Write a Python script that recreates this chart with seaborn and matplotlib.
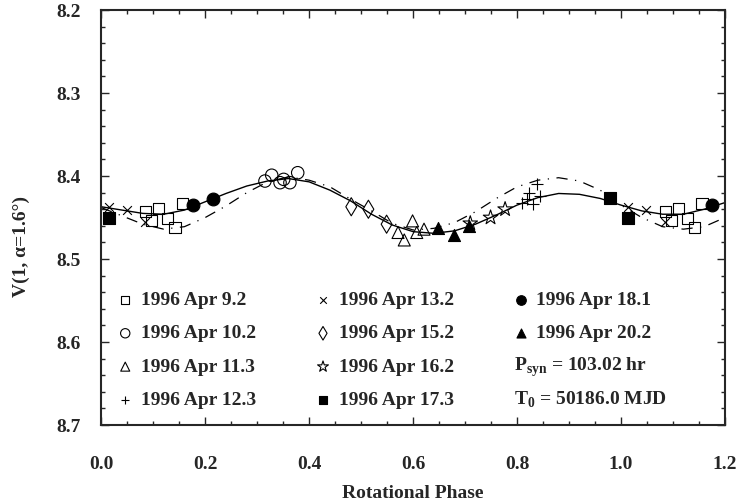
import numpy as np
import pandas as pd
import seaborn as sns
import matplotlib.pyplot as plt
from matplotlib.lines import Line2D

sns.set_style("ticks")
plt.rcParams['font.family'] = ['Liberation Serif', 'DejaVu Serif']
plt.rcParams['font.weight'] = 'bold'
plt.rcParams['mathtext.fontset'] = 'custom'
plt.rcParams['mathtext.rm'] = 'Liberation Serif:bold'
plt.rcParams['mathtext.bf'] = 'Liberation Serif:bold'

# observations folded on P = 103.02 hr (phase 0-1)
nights = ['1996 Apr 9.2', '1996 Apr 10.2', '1996 Apr 11.3', '1996 Apr 12.3',
          '1996 Apr 13.2', '1996 Apr 15.2', '1996 Apr 16.2', '1996 Apr 17.3',
          '1996 Apr 18.1', '1996 Apr 20.2']

apr09_phase = [0.085, 0.097, 0.110, 0.128, 0.142, 0.156]
apr09_mag = [8.443, 8.454, 8.439, 8.451, 8.462, 8.433]
apr10_phase = [0.315, 0.328, 0.344, 0.351, 0.363, 0.378]
apr10_mag = [8.406, 8.399, 8.408, 8.404, 8.408, 8.396]
apr11_phase = [0.571, 0.583, 0.599, 0.607, 0.621]
apr11_mag = [8.468, 8.477, 8.454, 8.468, 8.464]
apr12_phase = [0.810, 0.819, 0.823, 0.831, 0.844, 0.839]
apr12_mag = [8.433, 8.428, 8.421, 8.434, 8.424, 8.410]
apr13_phase = [0.014, 0.049, 0.085]
apr13_mag = [8.437, 8.441, 8.455]
apr15_phase = [0.481, 0.514, 0.549]
apr15_mag = [8.437, 8.440, 8.458]
apr16_phase = [0.710, 0.749, 0.777]
apr16_mag = [8.457, 8.450, 8.440]
apr17_phase = [0.014, 0.979]
apr17_mag = [8.450, 8.427]
apr18_phase = [0.176, 0.215]
apr18_mag = [8.435, 8.428]
apr20_phase = [0.647, 0.679, 0.708]
apr20_mag = [8.462, 8.471, 8.460]

# fitted lightcurves
fit_phase = [0.00, 0.04, 0.08, 0.12, 0.16, 0.20, 0.24, 0.28, 0.32, 0.36, 0.40,
             0.44, 0.48, 0.52, 0.56, 0.60, 0.64, 0.68, 0.72, 0.76, 0.80, 0.84,
             0.88, 0.92, 0.96, 1.00, 1.04, 1.08, 1.12, 1.16, 1.20]
fit_solid = [8.437, 8.441, 8.445, 8.446, 8.441, 8.431, 8.421, 8.412, 8.406, 8.403,
             8.407, 8.417, 8.430, 8.446, 8.459, 8.467, 8.469, 8.466, 8.458, 8.447,
             8.435, 8.426, 8.421, 8.422, 8.427, 8.435, 8.442, 8.446, 8.446, 8.440,
             8.432]
fit_dashed = [8.438, 8.448, 8.458, 8.464, 8.461, 8.450, 8.436, 8.420, 8.407, 8.401,
              8.405, 8.413, 8.428, 8.442, 8.457, 8.465, 8.463, 8.456, 8.443, 8.427,
              8.413, 8.405, 8.402, 8.406, 8.417, 8.435, 8.450, 8.461, 8.464, 8.461,
              8.450]

period_text = r'P$_{\mathrm{syn}}$ = 103.02 hr'
epoch_text = r'T$_{\mathrm{0}}$ = 50186.0 MJD'

phases = [apr09_phase, apr10_phase, apr11_phase, apr12_phase, apr13_phase,
          apr15_phase, apr16_phase, apr17_phase, apr18_phase, apr20_phase]
mags = [apr09_mag, apr10_mag, apr11_mag, apr12_mag, apr13_mag,
        apr15_mag, apr16_mag, apr17_mag, apr18_mag, apr20_mag]

rows = []
for night, ph, mg in zip(nights, phases, mags):
    for p, m in zip(ph, mg):
        rows.append((night, p, m))
        if p + 1 <= 1.2:  # repeat the start of the cycle
            rows.append((night, p + 1, m))
df = pd.DataFrame(rows, columns=['night', 'phase', 'mag'])

styles = {
    '1996 Apr 9.2': ('s', 'none', 65),
    '1996 Apr 10.2': ('o', 'none', 80),
    '1996 Apr 11.3': ('^', 'none', 75),
    '1996 Apr 12.3': ('+', 'black', 70),
    '1996 Apr 13.2': ('x', 'black', 40),
    '1996 Apr 15.2': ('d', 'none', 85),
    '1996 Apr 16.2': ('*', 'none', 120),
    '1996 Apr 17.3': ('s', 'black', 65),
    '1996 Apr 18.1': ('o', 'black', 85),
    '1996 Apr 20.2': ('^', 'black', 75),
}

fig, ax = plt.subplots(figsize=(7.39, 5.03), dpi=100)
fig.subplots_adjust(left=0.137, right=0.981, bottom=0.155, top=0.980)

sns.lineplot(x=fit_phase, y=fit_solid, ax=ax, color='black', lw=1.0)
sns.lineplot(x=fit_phase, y=fit_dashed, ax=ax, color='black', lw=0.9,
             linestyle=(0, (9, 6, 1, 6)))

for night in nights:
    mk, fc, sz = styles[night]
    sub = df[df['night'] == night]
    if fc == 'none':
        sns.scatterplot(data=sub, x='phase', y='mag', ax=ax, marker=mk, s=sz,
                        facecolors='none', edgecolor='black', linewidth=0.8,
                        label=night, zorder=3)
    else:
        sns.scatterplot(data=sub, x='phase', y='mag', ax=ax, marker=mk, s=sz,
                        color='black', edgecolor='black', linewidth=0.8,
                        label=night, zorder=3)

ax.set_xlim(0.0, 1.2)
ax.set_ylim(8.7, 8.2)
ax.set_xticks(np.arange(0, 1.21, 0.2))
ax.set_xticks(np.arange(0, 1.21, 0.05), minor=True)
ax.set_yticks(np.arange(8.2, 8.71, 0.1))
ax.set_yticks(np.arange(8.2, 8.71, 0.02), minor=True)
ax.xaxis.set_major_formatter(plt.FormatStrFormatter('%.1f'))
ax.yaxis.set_major_formatter(plt.FormatStrFormatter('%.1f'))
ax.tick_params(axis='both', which='both', direction='in', top=True, right=True,
               labelsize=14, width=1.0)
ax.tick_params(axis='x', which='major', length=6, pad=22)
ax.tick_params(axis='y', which='major', length=6, pad=15)
ax.tick_params(which='minor', length=3)
for sp in ax.spines.values():
    sp.set_linewidth(1.5)

ax.set_xlabel('Rotational Phase', fontsize=14, fontweight='bold')
ax.set_ylabel('V(1, α=1.6°)', fontsize=14, fontweight='bold')
ax.xaxis.set_label_coords(0.5, -0.145)
ax.yaxis.set_label_coords(-0.114, 0.43)

# two blank slots so the third column holds only two nights
handles, labels = ax.get_legend_handles_labels()
blank = Line2D([], [], linestyle='none', marker=None)
handles += [blank, blank]
labels += ['', '']
ax.legend(handles, labels, ncol=3, frameon=False, loc='upper left',
          bbox_to_anchor=(0.026, 0.322), fontsize=14, markerscale=0.75,
          handlelength=0.8, handletextpad=0.4, columnspacing=3.05,
          labelspacing=0.81, borderpad=0, borderaxespad=0)

ax.text(0.662, 0.140, period_text, transform=ax.transAxes,
        fontsize=14, fontweight='bold', va='center', ha='left')
ax.text(0.662, 0.060, epoch_text, transform=ax.transAxes,
        fontsize=14, fontweight='bold', va='center', ha='left')

plt.savefig('out.png', dpi=100)
